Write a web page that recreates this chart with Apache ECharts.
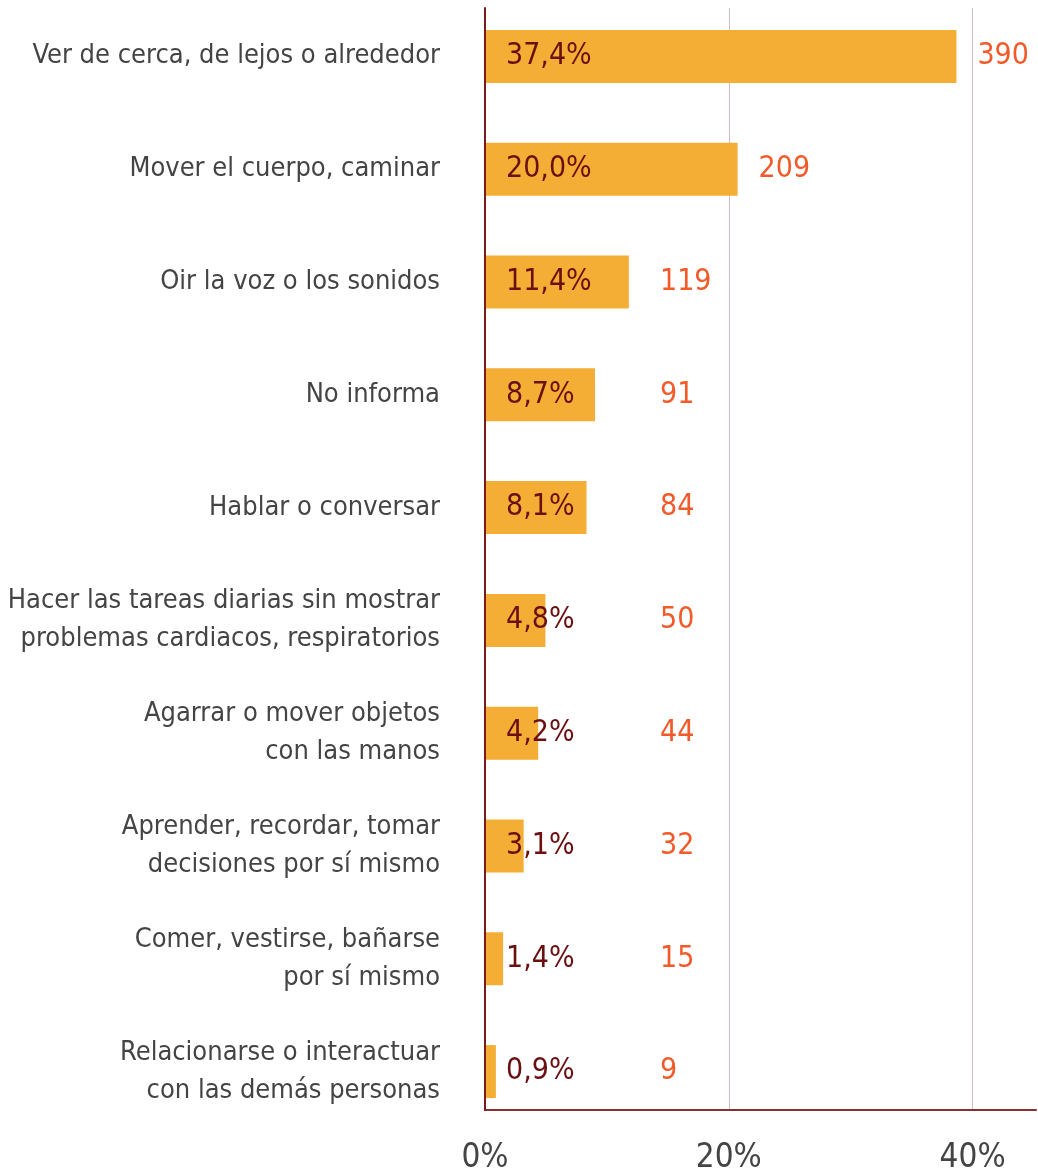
<!DOCTYPE html>
<html>
<head>
  <meta charset="utf-8">
  <title>Dificultades</title>
  <script src="https://cdn.jsdelivr.net/npm/echarts@6/dist/echarts.min.js"></script>
  <style>
    html, body { margin: 0; padding: 0; background: #fff; }
    #main { width: 1038px; height: 1176px; }
  </style>
</head>
<body>
  <div id="main"></div>
  <script>
    var categorias = [
      'Ver de cerca, de lejos o alrededor',
      'Mover el cuerpo, caminar',
      'Oir la voz o los sonidos',
      'No informa',
      'Hablar o conversar',
      'Hacer las tareas diarias sin mostrar\nproblemas cardiacos, respiratorios',
      'Agarrar o mover objetos\ncon las manos',
      'Aprender, recordar, tomar\ndecisiones por sí mismo',
      'Comer, vestirse, bañarse\npor sí mismo',
      'Relacionarse o interactuar\ncon las demás personas'
    ];
    var cantidades = [390, 209, 119, 91, 84, 50, 44, 32, 15, 9];
    var porcentajes = [37.4, 20.0, 11.4, 8.7, 8.1, 4.8, 4.2, 3.1, 1.4, 0.9];
    var ticksPct = [0, 20, 40];

    // sin Oswald: la condensada mas parecida que hay instalada
    var fuente = "'Liberation Sans Narrow', 'DejaVu Sans Condensed', sans-serif";

    var chart = echarts.init(document.getElementById('main'));

    chart.setOption({
      animation: false,
      grid: [
        // barras
        { left: 485, top: 0, width: 556, height: 1128, outerBoundsMode: 'none', containLabel: false },
        // ejes visibles y lineas guia
        { left: 485, top: 8, width: 551, height: 1102, outerBoundsMode: 'none', containLabel: false }
      ],
      xAxis: [
        { gridIndex: 0, type: 'value', min: 0, max: 460, show: false },
        {
          gridIndex: 1, type: 'value', min: ticksPct[0], max: 45.2, interval: 20,
          axisLine: { show: true, lineStyle: { color: '#8a2f2f', width: 2 } },
          axisTick: { show: false },
          splitLine: {
            show: true, showMinLine: false, showMaxLine: false,
            lineStyle: { color: '#d8bcbf', width: 1 }
          },
          axisLabel: {
            formatter: '{value}%', color: '#444', fontSize: 33, fontFamily: fuente,
            margin: 32, showMaxLabel: false
          }
        }
      ],
      yAxis: [
        {
          gridIndex: 0, type: 'category', inverse: true, data: categorias,
          axisLine: { show: false }, axisTick: { show: false },
          axisLabel: {
            color: '#444', fontSize: 27, fontFamily: fuente, margin: 45,
            lineHeight: 38, align: 'right'
          }
        },
        {
          gridIndex: 1, type: 'value', min: 0, max: 1, z: 10,
          axisLine: { show: true, lineStyle: { color: '#7a1a1a', width: 2 } },
          axisTick: { show: false }, axisLabel: { show: false },
          splitLine: { show: false }
        }
      ],
      series: [
        {
          type: 'bar', xAxisIndex: 0, yAxisIndex: 0, data: cantidades,
          barWidth: 53,
          itemStyle: { color: '#f5ae35' },
          label: {
            show: true, position: 'insideLeft', distance: 21,
            color: '#6b0f10', fontSize: 30, fontFamily: fuente,
            formatter: function (p) {
              return porcentajes[p.dataIndex].toFixed(1).replace('.', ',') + '%';
            }
          }
        },
        {
          type: 'bar', xAxisIndex: 0, yAxisIndex: 0, data: cantidades,
          barWidth: 53, barGap: '-100%',
          itemStyle: { color: 'rgba(0,0,0,0)' },
          label: {
            show: true, position: 'right', distance: 21,
            color: '#f15a29', fontSize: 30, fontFamily: fuente,
            formatter: '{c}'
          },
          // los numeros chicos quedan alineados en una columna
          labelLayout: function (p) {
            return {
              x: Math.max(p.rect.x + p.rect.width + 21, 660),
              y: p.rect.y + p.rect.height / 2,
              align: 'left',
              verticalAlign: 'middle'
            };
          }
        }
      ]
    });
  </script>
</body>
</html>
